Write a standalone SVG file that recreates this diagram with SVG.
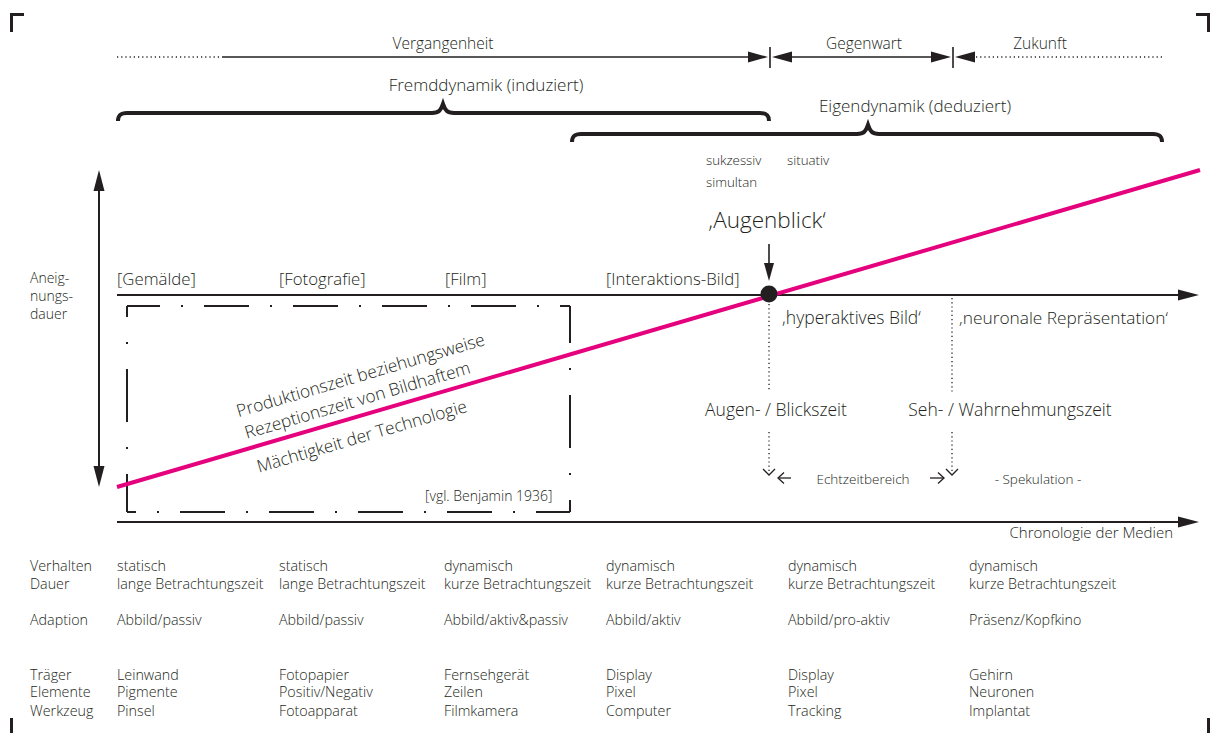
<svg xmlns="http://www.w3.org/2000/svg" width="1218" height="733" viewBox="0 0 1218 733">
<style>
text{font-family:"Open Sans","Liberation Sans",sans-serif;font-weight:350;fill:#231f20}
.t{font-size:15.5px}
.big{font-size:17px}
.sm{font-size:13.3px}
.tab{font-size:14.3px}
.lbl{font-size:16.8px}
.mid{text-anchor:middle}
.ln{stroke:#231f20;fill:none}
.dot{stroke:#231f20;fill:none;stroke-width:1.3;stroke-dasharray:1.2 3}
.brace{stroke:#231f20;fill:none;stroke-width:4}
.rect{stroke:#231f20;fill:none;stroke-width:2}
.ah{fill:#231f20}
</style>
<rect width="1218" height="733" fill="#fff"/>
<g id="cropmarks" fill="#231f20">
<path d="M10,13 H24 V16 H13 V32 H10 Z"/>
<path d="M1210,13 H1196 V16 H1207 V32 H1210 Z"/>
<rect x="10" y="718" width="3" height="15"/>
<rect x="1207" y="718" width="3" height="15"/>
</g>
<g id="connectors">
<line class="dot" x1="117" y1="57" x2="222" y2="57"/>
<line class="ln" stroke-width="1.5" x1="222" y1="57" x2="750" y2="57"/>
<path class="ah" d="M768,57 L748,51.5 L748,62.5 Z"/>
<line class="ln" stroke-width="1.6" x1="770" y1="47" x2="770" y2="68"/>
<path class="ah" d="M772,57 L792,51.5 L792,62.5 Z"/>
<line class="ln" stroke-width="1.5" x1="790" y1="57" x2="934" y2="57"/>
<path class="ah" d="M951,57 L931,51.5 L931,62.5 Z"/>
<line class="ln" stroke-width="1.6" x1="953" y1="47" x2="953" y2="68"/>
<path class="ah" d="M955,57 L975,51.5 L975,62.5 Z"/>
<line class="dot" x1="976" y1="57" x2="1165" y2="57"/>
<path class="brace" d="M118,121 C118,115 121,113 127,113 L432,113 C439,113 441,110 443,104 C445,110 447,113 454,113 L760,113 C766,113 769,115 769,121"/>
<path class="brace" d="M572,142 C572,136 575,134 581,134 L857,134 C864,134 866,131 868,125 C870,131 872,134 879,134 L1153,134 C1159,134 1162,136 1162,142"/>
<line class="ln" stroke-width="2" x1="99" y1="188" x2="99" y2="470"/>
<path class="ah" d="M99,170 L93.5,191 L104.5,191 Z"/>
<path class="ah" d="M99,487 L93.5,466 L104.5,466 Z"/>
<line class="ln" stroke-width="2" x1="117" y1="295" x2="1182" y2="295"/>
<path class="ah" d="M1199,295 L1178,289.5 L1178,300.5 Z"/>
<line class="ln" stroke-width="2" x1="117" y1="522" x2="1182" y2="522"/>
<path class="ah" d="M1199,522 L1178,516.5 L1178,527.5 Z"/>
<line class="rect" x1="127" y1="306" x2="570" y2="306" stroke-dasharray="45 21 2 21" stroke-dashoffset="12"/>
<line class="rect" x1="127" y1="512" x2="570" y2="512" stroke-dasharray="45 21 2 21" stroke-dashoffset="36"/>
<line class="rect" x1="127" y1="306" x2="127" y2="512" stroke-dasharray="53 25 2 25" stroke-dashoffset="42"/>
<line class="rect" x1="570" y1="306" x2="570" y2="512" stroke-dasharray="53 25 2 25" stroke-dashoffset="16"/>
<line class="ln" stroke-width="1.6" x1="769" y1="244" x2="769" y2="265"/>
<path class="ah" d="M769,281 L764,263 L774,263 Z"/>
<line class="dot" x1="769" y1="304" x2="769" y2="392"/>
<line class="dot" x1="769" y1="432" x2="769" y2="474"/>
<line class="dot" x1="952" y1="298" x2="952" y2="392"/>
<line class="dot" x1="952" y1="432" x2="952" y2="474"/>
<polyline class="ln" stroke-width="1.3" points="763,469 769,475 775,469"/>
<polyline class="ln" stroke-width="1.3" points="946,469 952,475 958,469"/>
<line class="ln" stroke-width="1.3" x1="778" y1="478" x2="791" y2="478"/>
<polyline class="ln" stroke-width="1.3" points="784,472.5 778,478 784,483.5"/>
<line class="ln" stroke-width="1.3" x1="930" y1="478" x2="944" y2="478"/>
<polyline class="ln" stroke-width="1.3" points="938,472.5 944,478 938,483.5"/>
<line x1="117" y1="487" x2="1200" y2="170" stroke="#e5007d" stroke-width="4"/>
</g>
<g id="augenblick-dot"><circle cx="769" cy="294" r="8.5" fill="#231f20"/></g>
<g id="timeline-labels">
<text class="t mid" x="443" y="49">Vergangenheit</text>
<text class="t mid" x="864" y="49">Gegenwart</text>
<text class="t mid" x="1040" y="49">Zukunft</text>
<text class="big mid" x="486" y="91">Fremddynamik (induziert)</text>
<text class="big mid" x="915" y="112">Eigendynamik (deduziert)</text>
<text class="sm" x="706" y="165">sukzessiv</text>
<text class="sm" x="706" y="187">simultan</text>
<text class="sm" x="787" y="165">situativ</text>
</g>
<g id="axis-label">
<text style="font-size:14px" x="30" y="283">Aneig-</text>
<text style="font-size:14px" x="30" y="301">nungs-</text>
<text style="font-size:14px" x="30" y="319">dauer</text>
</g>
<g id="media">
<text class="lbl" x="117" y="285">[Gemälde]</text>
<text class="lbl" x="279" y="285">[Fotografie]</text>
<text class="lbl" x="445" y="285">[Film]</text>
<text class="lbl" x="606" y="285">[Interaktions-Bild]</text>
<text class="mid" style="font-size:22.5px" x="767" y="228">‚Augenblick‘</text>
<text style="font-size:17.5px" x="782" y="324">‚hyperaktives Bild‘</text>
<text style="font-size:17.3px" x="959" y="324">‚neuronale Repräsentation‘</text>
<text class="mid" style="font-size:17.5px" x="776" y="416">Augen- / Blickszeit</text>
<text class="mid" style="font-size:17.5px" x="1010" y="416">Seh- / Wahrnehmungszeit</text>
<text class="mid" style="font-size:13.5px" x="863" y="484">Echtzeitbereich</text>
<text class="mid" style="font-size:13.5px" x="1038" y="484">- Spekulation -</text>
<text style="font-size:15px;text-anchor:end" x="1173" y="538">Chronologie der Medien</text>
</g>
<g id="benjamin-box">
<g transform="translate(360,416) rotate(-16.31)">
<text class="mid" style="font-size:17.3px" x="12" y="-33">Produktionszeit beziehungsweise</text>
<text class="mid" style="font-size:17.3px" x="2" y="-10">Rezeptionszeit von Bildhaftem</text>
<text class="mid" style="font-size:17.3px" x="-4" y="26">Mächtigkeit der Technologie</text>
</g>
<text style="font-size:14px" x="425" y="501">[vgl. Benjamin 1936]</text>
</g>
<g id="table">
<text class="tab" x="30" y="571">Verhalten</text>
<text class="tab" x="30" y="589">Dauer</text>
<text class="tab" x="30" y="625">Adaption</text>
<text class="tab" x="30" y="680">Träger</text>
<text class="tab" x="30" y="697">Elemente</text>
<text class="tab" x="30" y="716">Werkzeug</text>
<text class="tab" x="117" y="571">statisch</text>
<text class="tab" x="117" y="589">lange Betrachtungszeit</text>
<text class="tab" x="117" y="625">Abbild/passiv</text>
<text class="tab" x="117" y="680">Leinwand</text>
<text class="tab" x="117" y="697">Pigmente</text>
<text class="tab" x="117" y="716">Pinsel</text>
<text class="tab" x="279" y="571">statisch</text>
<text class="tab" x="279" y="589">lange Betrachtungszeit</text>
<text class="tab" x="279" y="625">Abbild/passiv</text>
<text class="tab" x="279" y="680">Fotopapier</text>
<text class="tab" x="279" y="697">Positiv/Negativ</text>
<text class="tab" x="279" y="716">Fotoapparat</text>
<text class="tab" x="444" y="571">dynamisch</text>
<text class="tab" x="444" y="589">kurze Betrachtungszeit</text>
<text class="tab" x="444" y="625">Abbild/aktiv&amp;passiv</text>
<text class="tab" x="444" y="680">Fernsehgerät</text>
<text class="tab" x="444" y="697">Zeilen</text>
<text class="tab" x="444" y="716">Filmkamera</text>
<text class="tab" x="606" y="571">dynamisch</text>
<text class="tab" x="606" y="589">kurze Betrachtungszeit</text>
<text class="tab" x="606" y="625">Abbild/aktiv</text>
<text class="tab" x="606" y="680">Display</text>
<text class="tab" x="606" y="697">Pixel</text>
<text class="tab" x="606" y="716">Computer</text>
<text class="tab" x="788" y="571">dynamisch</text>
<text class="tab" x="788" y="589">kurze Betrachtungszeit</text>
<text class="tab" x="788" y="625">Abbild/pro-aktiv</text>
<text class="tab" x="788" y="680">Display</text>
<text class="tab" x="788" y="697">Pixel</text>
<text class="tab" x="788" y="716">Tracking</text>
<text class="tab" x="969" y="571">dynamisch</text>
<text class="tab" x="969" y="589">kurze Betrachtungszeit</text>
<text class="tab" x="969" y="625">Präsenz/Kopfkino</text>
<text class="tab" x="969" y="680">Gehirn</text>
<text class="tab" x="969" y="697">Neuronen</text>
<text class="tab" x="969" y="716">Implantat</text>
</g>
</svg>
